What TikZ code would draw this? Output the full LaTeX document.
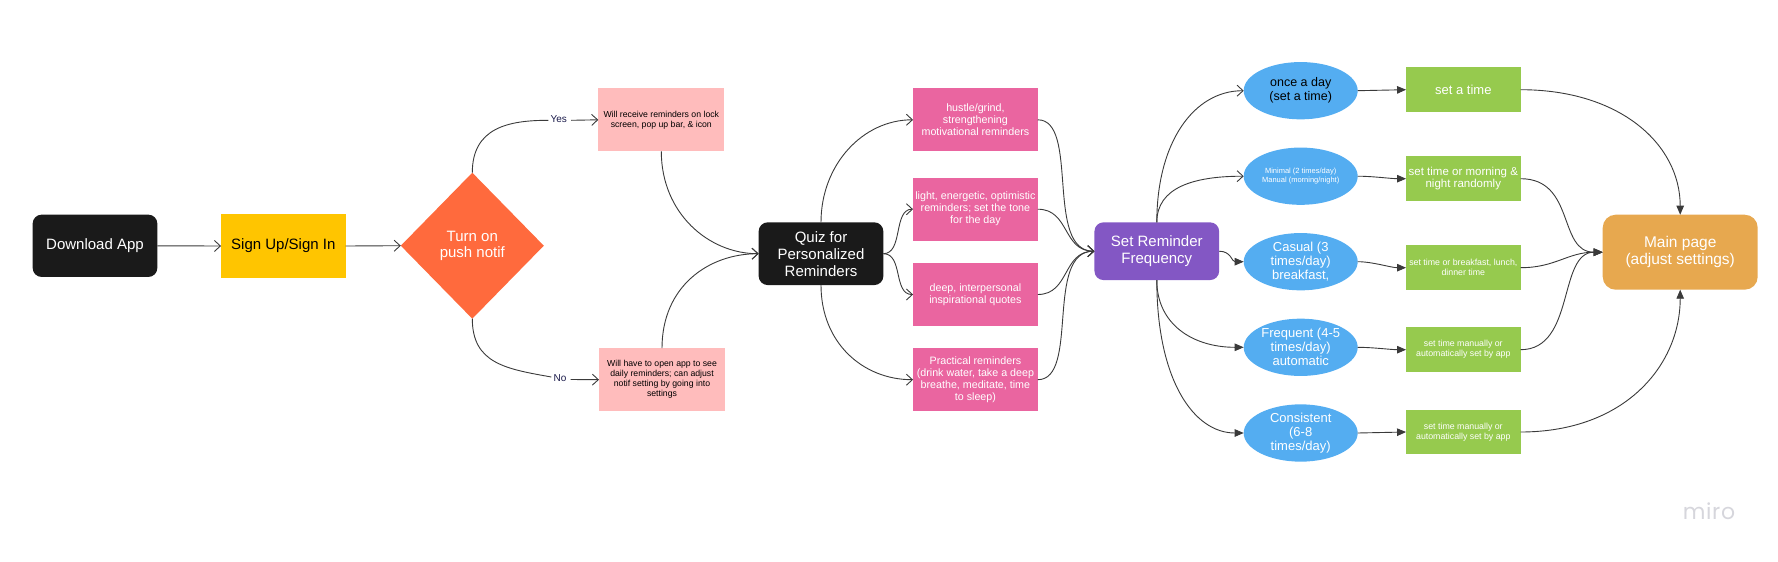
\documentclass[tikz,border=0pt]{standalone}
\usepackage{fontspec}
\setmainfont{Liberation Sans}
\newfontfamily\logofont[LetterSpace=3]{Poppins}
\usetikzlibrary{shapes.geometric,arrows.meta,calc}
\newcommand{\fs}[2]{\fontsize{#1pt}{#2pt}\selectfont}
\definecolor{cblack}{HTML}{1A1A1A}
\definecolor{cyellow}{HTML}{FFC500}
\definecolor{corange}{HTML}{FF6A3D}
\definecolor{cpink}{HTML}{FFBCBC}
\definecolor{chot}{HTML}{EA65A0}
\definecolor{cpurple}{HTML}{8357C4}
\definecolor{cblue}{HTML}{54ADF1}
\definecolor{cgreen}{HTML}{96CA4E}
\definecolor{cmain}{HTML}{E7A84F}
\definecolor{cline}{HTML}{3A3A3A}
\definecolor{clabel}{HTML}{1A1A4A}
\definecolor{clogo}{HTML}{D6D6DC}
\tikzset{
  x=1pt,y=-1pt,
  base/.style={inner sep=0pt,outer sep=0pt,align=center,text=white},
  smallbox/.style={base,rectangle,minimum height=63pt,minimum width=124.7pt},
  pinkbox/.style={smallbox,fill=cpink,minimum width=126pt,text=black,font=\fs{8.7}{10}},
  hotbox/.style={smallbox,fill=chot,font=\fs{10.7}{12}},
  greenbox/.style={base,rectangle,fill=cgreen,minimum width=114.5pt,minimum height=44.7pt},
  greensmall/.style={greenbox,font=\fs{8.8}{10}},
  darkbox/.style={base,rectangle,rounded corners=9pt,minimum width=124.7pt},
  ell/.style={base,ellipse,fill=cblue,minimum width=114pt,minimum height=57.3pt},
  ellbig/.style={ell,font=\fs{13}{14}},
  openline/.style={draw=cline,line width=0.9pt,-{Straight Barb[length=6pt,width=11pt,line width=0.9pt]}},
  fillline/.style={draw=cline,line width=0.9pt,-{Triangle[length=9pt,width=7.5pt]}},
  plainline/.style={draw=cline,line width=0.9pt},
  lbl/.style={inner sep=0pt,text=clabel,font=\fs{10}{10}},
}
\begin{document}
\begin{tikzpicture}
\useasboundingbox (0,0) rectangle (1778,562);
\node[darkbox,fill=cblack,minimum height=62.3pt,font=\fs{15}{17}] (dl) at (95,245.8) {Download App};
\node[base,rectangle,fill=cyellow,minimum width=124.5pt,minimum height=63.4pt,text=black,font=\fs{15}{17}] (sign) at (283.3,246) {Sign Up/Sign In};
\node[base,diamond,aspect=0.98,fill=corange,minimum width=143pt,minimum height=146pt,font=\fs{15}{16}] (turn) at (472.3,245.7) {Turn on\\push notif};
\node[lbl] (yes) at (558.7,119.3) {Yes};
\node[lbl] (no) at (560,378) {No};
\node[pinkbox] (will1) at (661.3,119.8) {Will receive reminders on lock\\screen, pop up bar, \& icon};
\node[pinkbox] (will2) at (662,379.7) {Will have to open app to see\\daily reminders; can adjust\\notif setting by going into\\settings};
\node[darkbox,fill=cblack,minimum height=62.7pt,font=\fs{15}{17}] (quiz) at (821,253.7) {Quiz for\\Personalized\\Reminders};
\node[hotbox] (h1) at (975.4,119.8) {hustle/grind,\\strengthening\\motivational reminders};
\node[hotbox] (h2) at (975.4,209.2) {light, energetic, optimistic\\reminders; set the tone\\for the day};
\node[hotbox] (h3) at (975.4,294.5) {deep, interpersonal\\inspirational quotes};
\node[hotbox] (h4) at (975.4,379.7) {Practical reminders\\(drink water, take a deep\\breathe, meditate, time\\to sleep)};
\node[darkbox,fill=cpurple,minimum height=57.7pt,font=\fs{15}{17}] (set) at (1156.8,251.2) {Set Reminder\\Frequency};
\node[ell,text=black,font=\fs{12.5}{14}] (e1) at (1300.7,90.7) {once a day\\(set a time)};
\node[ell,font=\fs{7.5}{9}] (e2) at (1300.7,176.2) {Minimal (2 times/day)\\Manual (morning/night)};
\node[ellbig] (e3) at (1300.7,261.7) {Casual (3\\times/day)\\breakfast,};
\node[ellbig] (e4) at (1300.7,347.3) {Frequent (4-5\\times/day)\\automatic};
\node[ellbig] (e5) at (1300.7,433) {Consistent\\(6-8\\times/day)};
\node[greenbox,font=\fs{13}{14}] (g1) at (1463.3,89.7) {set a time};
\node[greenbox,font=\fs{11.5}{12}] (g2) at (1463.3,178.7) {set time or morning \&\\night randomly};
\node[greensmall] (g3) at (1463.3,267.7) {set time or breakfast, lunch,\\dinner time};
\node[greensmall] (g4) at (1463.3,349.7) {set time manually or\\automatically set by app};
\node[greensmall] (g5) at (1463.3,432) {set time manually or\\automatically set by app};
\node[base,rectangle,rounded corners=13pt,fill=cmain,minimum width=155pt,minimum height=75pt,font=\fs{15.5}{17}] (main) at (1680.2,252.2) {Main page\\(adjust settings)};
\node[inner sep=0pt,text=clogo,font=\logofont\fs{22}{22}] (miro) at (1709,511) {miro};
% connectors
\draw[openline] (dl.east) -- (sign.west);
\draw[openline] (sign.east) -- (turn.west);
\draw[plainline] (turn.north) .. controls +(0,-45) and +(-40,0) .. ($(yes.west)+(-2,1)$);
\draw[openline] ($(yes.east)+(4,1)$) -- (will1.west);
\draw[plainline] (turn.south) .. controls +(0,45) and +(-45,-8) .. ($(no.west)+(-2,-1)$);
\draw[openline] ($(no.east)+(4,1.5)$) -- (will2.west);
\draw[openline] (will1.south) .. controls +(0,62) and +(-50,0) .. (quiz.west);
\draw[openline] (will2.north) .. controls +(0,-62) and +(-50,0) .. (quiz.west);
\draw[openline] (quiz.north) .. controls +(0,-58) and +(-50,0) .. (h1.west);
\draw[openline] (quiz.east) .. controls +(20,0) and +(-20,0) .. (h2.west);
\draw[openline] (quiz.east) .. controls +(20,0) and +(-20,0) .. (h3.west);
\draw[openline] (quiz.south) .. controls +(0,58) and +(-50,0) .. (h4.west);
\draw[openline] (h1.east) .. controls +(42,0) and +(-50,0) .. (set.west);
\draw[openline] (h2.east) .. controls +(32,0) and +(-32,0) .. (set.west);
\draw[openline] (h3.east) .. controls +(32,0) and +(-32,0) .. (set.west);
\draw[openline] (h4.east) .. controls +(42,0) and +(-50,0) .. (set.west);
\draw[openline] (set.north) .. controls +(0,-80) and +(-50,0) .. (e1.west);
\draw[openline] (set.north) .. controls +(0,-35) and +(-50,0) .. (e2.west);
\draw[fillline] (set.east) .. controls +(12,0) and +(-12,0) .. (e3.west);
\draw[fillline] (set.south) .. controls +(0,45) and +(-50,0) .. (e4.west);
\draw[fillline] (set.south) .. controls +(0,100) and +(-50,0) .. (e5.west);
\draw[fillline] (e1.east) -- (g1.west);
\draw[fillline] (e2.east) .. controls +(15,0) and +(-15,0) .. (g2.west);
\draw[fillline] (e3.east) .. controls +(15,0) and +(-15,0) .. (g3.west);
\draw[fillline] (e4.east) .. controls +(15,0) and +(-15,0) .. (g4.west);
\draw[fillline] (e5.east) -- (g5.west);
\draw[fillline] (g1.east) .. controls +(100,0) and +(0,-70) .. (main.north);
\draw[fillline] (g2.east) .. controls +(55,0) and +(-45,0) .. (main.west);
\draw[fillline] (g3.east) .. controls +(35,0) and +(-35,0) .. (main.west);
\draw[fillline] (g4.east) .. controls +(55,0) and +(-45,0) .. (main.west);
\draw[fillline] (g5.east) .. controls +(105,0) and +(0,75) .. (main.south);
\end{tikzpicture}
\end{document}
